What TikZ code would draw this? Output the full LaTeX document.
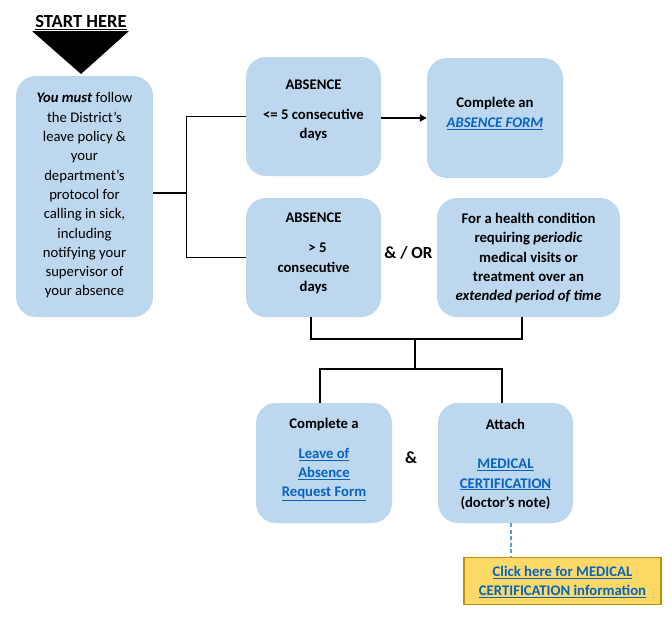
\documentclass[tikz,border=0pt]{standalone}
\usepackage{fontspec}
\setmainfont{Carlito}
\usetikzlibrary{arrows.meta}
\definecolor{boxblue}{RGB}{189,215,238}
\definecolor{linkblue}{RGB}{5,99,193}
\definecolor{yelfill}{RGB}{255,217,102}
\definecolor{yeldraw}{RGB}{191,144,0}
\definecolor{dashblue}{RGB}{91,155,213}
\newcommand{\lnk}[1]{\textcolor{linkblue}{\underline{#1}}}
\begin{document}
\begin{tikzpicture}[x=1pt,y=-1pt,
  box/.style={fill=boxblue,draw=none,rounded corners=20pt,inner sep=0pt},
  txt/.style={align=center,inner sep=0pt,font=\fontsize{14.7}{19.3}\selectfont\bfseries},
  conn/.style={line width=1.8pt,draw=black},
  arr/.style={line width=1.8pt,-{Triangle[length=7pt,width=7pt]}},
  dashconn/.style={line width=1.3pt,draw=dashblue,dash pattern=on 4pt off 2.5pt}]
\useasboundingbox (0,0) rectangle (672,624);
% title and triangle
\node[inner sep=0pt,font=\fontsize{18.5}{22}\selectfont\bfseries] (start) at (81,22.5) {\underline{START HERE}};
\fill[black] (32,31) -- (129,31) -- (81,74) -- cycle;
% boxes
\node[box,minimum width=137pt,minimum height=241pt] (b1) at (84.5,196.5) {};
\node[box,minimum width=135pt,minimum height=119pt] (b2) at (313.5,116.5) {};
\node[box,minimum width=136pt,minimum height=120pt] (b3) at (495,118) {};
\node[box,minimum width=135pt,minimum height=119pt] (b4) at (313.5,257.5) {};
\node[box,minimum width=183pt,minimum height=119pt] (b5) at (528.5,257.5) {};
\node[box,minimum width=136pt,minimum height=120pt] (b6) at (324,463) {};
\node[box,minimum width=135pt,minimum height=120pt] (b7) at (505.5,463) {};
\node[fill=yelfill,draw=yeldraw,line width=1.2pt,minimum width=197pt,minimum height=47pt,inner sep=0pt] (y1) at (562.5,581) {};
% texts
\node[txt,font=\fontsize{14.7}{19.3}\selectfont] (t1) at (84.5,195.5) {\textbf{\textit{You must}} follow\\the District’s\\leave policy \&\\your\\department’s\\protocol for\\calling in sick,\\including\\notifying your\\supervisor of\\your absence};
\node[txt] (t2) at (313.5,110.5) {ABSENCE\\[10.7pt]<= 5 consecutive\\days};
\node[txt] (t3) at (495,113.5) {Complete an\\\textcolor{linkblue}{\underline{\textit{ABSENCE FORM}}}};
\node[txt] (t4) at (313.5,253.5) {ABSENCE\\[10.7pt]\hspace*{8pt}> 5\\consecutive\\days};
\node[txt] (t5) at (528.5,258) {For a health condition\\requiring \textit{periodic}\\medical visits or\\treatment over an\\\textit{extended period of time}};
\node[txt] (t6) at (324,459.5) {Complete a\\[10.7pt]\lnk{Leave of}\\\lnk{Absence}\\\lnk{Request Form}};
\node[txt] (t7) at (505.5,464.5) {Attach\\[19.6pt]\lnk{MEDICAL}\\\lnk{CERTIFICATION}\\(doctor’s note)};
\node[txt] (t8) at (562.5,582) {\lnk{Click here for MEDICAL}\\\lnk{CERTIFICATION information}};
\node[inner sep=0pt,font=\fontsize{17}{20}\selectfont\bfseries] (andor) at (408.5,252.5) {\& / OR};
\node[inner sep=0pt,font=\fontsize{17}{20}\selectfont\bfseries] (and) at (411,457.5) {\&};
% connectors
\coordinate (j1) at (186.5,193);
\coordinate (j2) at (415,339);
\coordinate (j3) at (415,369);
\draw[conn] (b1.east |- j1) -- (j1);
\draw[conn] (b2.west) -| (j1) |- (b4.west);
\draw[arr] (b2.east |- b3.west) -- (b3.west);
\draw[conn] ([xshift=-2.5pt]b4.south) |- (j2) -| ([xshift=-6.5pt]b5.south);
\draw[conn] (j2) -- (j3);
\draw[conn] ([xshift=-4pt]b6.north) |- (j3) -| ([xshift=-3.5pt]b7.north);
\draw[dashconn] ([xshift=5.5pt]b7.south) -- ([xshift=5.5pt]b7.south |- y1.north);
\end{tikzpicture}
\end{document}
